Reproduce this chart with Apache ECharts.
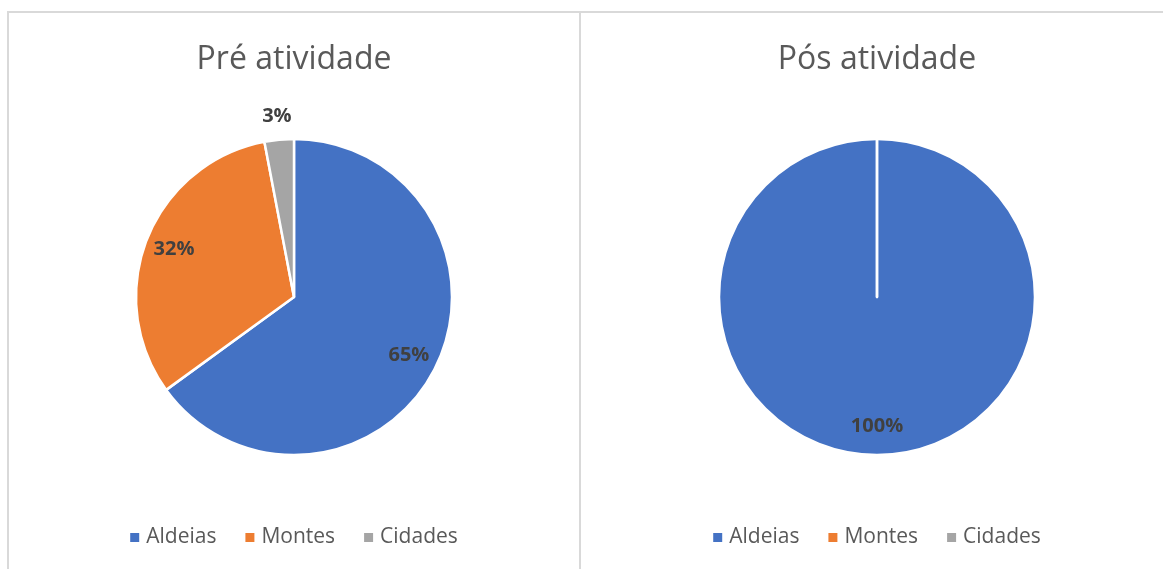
<!DOCTYPE html>
<html>
<head>
<meta charset="utf-8">
<script src="https://cdn.jsdelivr.net/npm/echarts@6/dist/echarts.min.js"></script>
<style>
  html, body { margin: 0; padding: 0; width: 1163px; height: 569px; overflow: hidden; background: #fff; }
  .chart { position: absolute; top: 0; height: 569px; }
  .line { position: absolute; background: #d9d9d9; pointer-events: none; }
</style>
</head>
<body>
<div id="pre" class="chart" style="left:0; width:588px;"></div>
<div id="pos" class="chart" style="left:580px; width:594px;"></div>
<div class="line" style="left:7px; top:11px; width:1156px; height:2px;"></div>
<div class="line" style="left:7px; top:11px; width:2px; height:558px;"></div>
<div class="line" style="left:579px; top:11px; width:2px; height:558px;"></div>
<script>
// data
const categories = ['Aldeias', 'Montes', 'Cidades'];
const preValues = [65, 32, 3];
const posValues = [100, 0, 0];
const colors = ['#4472C4', '#ED7D31', '#A5A5A5'];

const FONT = '"Open Sans", "Noto Sans", sans-serif';

const toData = vals => categories.map((name, i) => ({ name, value: vals[i] }));

// label only for slices in the given percent range
const labelFor = (lo, hi) => ({
  show: true,
  position: 'inside',
  fontFamily: FONT,
  fontSize: 20,
  fontWeight: 'bold',
  color: '#404040',
  formatter: p => (p.value > 0 && p.percent >= lo && p.percent < hi) ? Math.round(p.percent) + '%' : ''
});

const buildOption = (title, vals) => {
  const data = toData(vals);
  // invisible pies, only used to place the labels further out
  const helper = (outer, lo, hi) => ({
    type: 'pie',
    silent: true,
    legendHoverLink: false,
    center: ['50%', 297],
    radius: [0, outer],
    startAngle: 90,
    clockwise: true,
    animation: false,
    itemStyle: { color: 'transparent', borderWidth: 0 },
    emphasis: { disabled: true },
    labelLine: { show: false },
    label: labelFor(lo, hi),
    data
  });
  return {
    color: colors,
    title: {
      text: title,
      left: 'center',
      top: 44,
      padding: 0,
      textStyle: { fontFamily: FONT, fontSize: 32, fontWeight: 'normal', color: '#595959' }
    },
    legend: {
      data: categories,
      left: 'center',
      top: 527,
      padding: 0,
      icon: 'rect',
      itemWidth: 9,
      itemHeight: 9,
      itemGap: 29,
      itemStyle: { borderWidth: 0 },
      textStyle: { fontFamily: FONT, fontSize: 21, color: '#595959', padding: [0, 0, 0, 2] }
    },
    series: [
      {
        type: 'pie',
        center: ['50%', 297],
        radius: [0, 158],
        startAngle: 90,
        clockwise: true,
        animation: false,
        stillShowZeroSum: true,
        itemStyle: { borderColor: '#fff', borderWidth: 2.5 },
        label: { show: false },
        labelLine: { show: false },
        data
      },
      helper(252, 10, 101),
      helper(358, 0, 10)
    ]
  };
};

echarts.init(document.getElementById('pre')).setOption(buildOption('Pré atividade', preValues));
echarts.init(document.getElementById('pos')).setOption(buildOption('Pós atividade', posValues));
</script>
</body>
</html>
